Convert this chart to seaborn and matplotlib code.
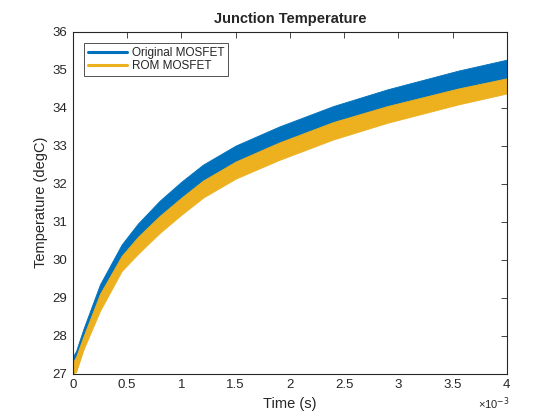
import numpy as np
import pandas as pd
import matplotlib
matplotlib.use("Agg")
import matplotlib.pyplot as plt
import seaborn as sns
from matplotlib.lines import Line2D
from matplotlib.ticker import FuncFormatter

# ---- data (envelope of the switching ripple) ----
time_s = [0.0e-3, 0.03e-3, 0.1e-3, 0.25e-3, 0.45e-3, 0.6e-3, 0.8e-3, 1.0e-3,
          1.2e-3, 1.5e-3, 1.9e-3, 2.4e-3, 2.9e-3, 3.55e-3, 4.0e-3]
orig_upper = [27.45, 27.6, 28.2, 29.35, 30.4, 30.95, 31.55, 32.05,
              32.5, 33.0, 33.5, 34.04, 34.48, 34.97, 35.26]
orig_lower = [27.0, 27.1, 27.7, 28.75, 29.8, 30.25, 30.8, 31.3,
              31.73, 32.23, 32.72, 33.26, 33.7, 34.18, 34.47]
rom_upper = [27.3, 27.45, 28.0, 29.1, 30.1, 30.6, 31.15, 31.63,
             32.08, 32.58, 33.08, 33.62, 34.04, 34.5, 34.77]
rom_lower = [27.0, 27.05, 27.65, 28.65, 29.7, 30.15, 30.7, 31.18,
             31.63, 32.13, 32.62, 33.16, 33.6, 34.08, 34.37]
series_names = ["Original MOSFET", "ROM MOSFET"]
x_ticks_ms = [0, 0.5, 1, 1.5, 2, 2.5, 3, 3.5, 4]
y_ticks = [27, 28, 29, 30, 31, 32, 33, 34, 35, 36]

rows = []
for name, up, lo in [(series_names[0], orig_upper, orig_lower),
                     (series_names[1], rom_upper, rom_lower)]:
    for t, u, l in zip(time_s, up, lo):
        rows.append((name, t, u))
        rows.append((name, t, l))
df = pd.DataFrame(rows, columns=["series", "time", "temp"])

colors = {"Original MOSFET": "#0072BD", "ROM MOSFET": "#EDB120"}

sns.set_theme(style="white")
plt.rcParams.update({
    "font.family": ["Liberation Sans", "DejaVu Sans"],
    "axes.edgecolor": "#262626",
    "text.color": "#262626",
    "xtick.color": "#262626",
    "ytick.color": "#262626",
})

fig = plt.figure(figsize=(5.6, 4.2), dpi=100)
fig.patch.set_facecolor("white")
ax = fig.add_axes([0.13, 0.11, 0.775, 0.815])

for name in series_names:
    sns.lineplot(data=df[df.series == name], x="time", y="temp",
                 estimator="mean", errorbar=("pi", 100), color=colors[name],
                 lw=0, err_kws={"alpha": 1, "linewidth": 0.6,
                                "edgecolor": colors[name]},
                 ax=ax, legend=False)

ax.set_xlim(0, 4e-3)
ax.set_ylim(27, 36)
ax.set_xticks([v * 1e-3 for v in x_ticks_ms])
ax.xaxis.set_major_formatter(FuncFormatter(lambda v, p: f"{v*1e3:g}"))
ax.set_yticks(y_ticks)
ax.tick_params(direction="in", length=4, width=0.6, top=True, right=True,
               labelsize=9.5, pad=4)
for s in ax.spines.values():
    s.set_linewidth(0.8)
    s.set_color("#262626")

ax.set_xlabel("Time (s)", fontsize=10.5, labelpad=4)
ax.set_ylabel("Temperature (degC)", fontsize=10.5, labelpad=3)
ax.set_title("Junction Temperature", fontsize=10.5, fontweight="bold", pad=6)
ax.text(0.933, -0.088, "×10$^{-3}$", transform=ax.transAxes,
        ha="left", va="center", fontsize=8)

handles = [Line2D([], [], color=colors[n], lw=2.2) for n in series_names]
leg = ax.legend(handles, series_names, loc="upper left", fontsize=8.5,
                frameon=True, fancybox=False, edgecolor="#262626",
                handlelength=3.3, handletextpad=0.4, borderpad=0.35,
                labelspacing=0.1, borderaxespad=0.95)
leg.get_frame().set_linewidth(0.7)

fig.savefig("out.png", dpi=100, facecolor="white")
